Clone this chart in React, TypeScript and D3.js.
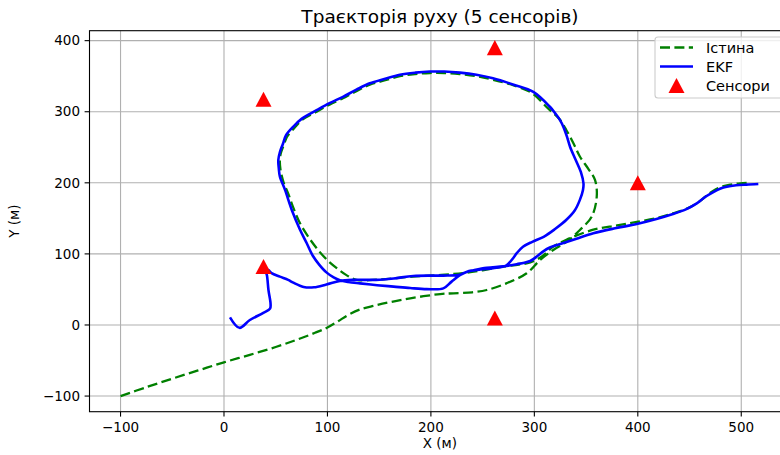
import React from "react";
import * as d3 from "d3";

// ---- data ----
const TRUTH_X = [-100, -75, -50, -25, 0, 25, 50, 70, 88, 100, 110, 120, 131, 145, 160, 180, 209, 222, 240, 254, 273, 292.6, 305.5, 318.3, 331.3, 344, 355.4, 360.3, 358.6, 352, 344, 338, 331, 324, 313, 298, 280, 260, 244, 228, 213, 199, 185, 170, 155, 141, 128, 115, 102, 90, 75, 68, 61, 58, 55, 54, 54.5, 56, 58, 62, 67, 73.5, 82, 91, 100, 109, 118, 128, 150, 186, 210, 231, 250, 270, 285, 296, 308, 318, 331, 357, 380, 399, 420, 434, 448, 457, 465, 472, 480, 490, 499, 508];
const TRUTH_Y = [-100, -87.5, -75.5, -64, -52.5, -42, -31, -21, -11, -3.5, 5, 14, 21.5, 27, 32, 37.5, 43.5, 44.6, 46, 49.2, 58.6, 72.7, 91.4, 105.5, 117.2, 133.6, 152.3, 180.5, 204, 220, 237, 255, 274, 290, 305, 326, 337, 345, 350, 353, 354.5, 354.5, 353, 350, 344, 338, 329, 319, 310, 300.5, 288, 277, 265, 254, 242, 232, 220, 209, 199, 185, 165, 143, 123, 105.5, 91, 80, 70.5, 63.5, 64, 68.5, 70.5, 73, 77, 82, 85, 88, 97, 110, 120, 134, 140, 145, 151, 157, 164, 171, 180, 188, 194, 197.5, 199.3, 200.2];

const EKF_X = [5.8, 15, 25, 38, 44.5, 45, 43, 41.5, 40, 43, 46, 54, 62, 67, 77, 87, 99, 112, 125, 147, 164, 183, 212, 228, 235, 248, 260, 273, 280, 283, 289, 298, 309, 320, 331, 339, 344, 347, 347.5, 345, 340, 334.5, 331.5, 328, 324.8, 320, 315, 299, 280, 260, 244, 228, 213, 199, 185, 170, 155, 141, 128, 115, 102, 90, 75, 67, 60, 57, 54, 52.5, 53, 54, 59, 66, 73.5, 80, 86, 92, 99, 106, 112, 120, 131.5, 148, 164, 180, 196, 212, 220, 228, 235, 241, 254, 270, 283, 296, 303, 309, 315, 322, 340, 357, 378, 399, 418, 434, 447, 457, 465, 473, 480, 486, 495, 505, 516.5];
const EKF_Y = [10.8, -4, 7, 17, 23, 30, 49, 70, 78, 77, 73, 68, 63.5, 59.5, 53.5, 53, 57, 62, 63.5, 63.5, 65.5, 69, 69.5, 70.5, 75, 78, 80, 84, 95, 101, 110, 117, 124, 135, 148, 161, 176, 190, 199, 215, 232, 250.8, 265, 279, 288.3, 298, 307, 328, 338, 347, 352, 355, 356.5, 356.5, 355, 352, 346, 340, 331, 321, 312, 302.5, 290, 279, 267, 255, 243, 232, 220, 209, 190, 160, 134, 115, 97, 85, 74, 67, 63, 60.5, 58.5, 56, 54, 52, 50.5, 51.5, 61, 70, 75, 77, 80.5, 82.5, 85.5, 90, 97, 104, 109, 112.5, 121, 129, 136, 142, 149, 156, 163, 171, 180, 187, 192, 194.5, 196.5, 197.5, 198.3];

const SENSOR_X = [400, 261.8, 38.2, 38.2, 261.8];
const SENSOR_Y = [200, 390.2, 317.6, 82.4, 9.8];

const X_TICKS = [-100, 0, 100, 200, 300, 400, 500];
const Y_TICKS = [-100, 0, 100, 200, 300, 400];

const TITLE = "Траєкторія руху (5 сенсорів)";
const X_LABEL = "X (м)";
const Y_LABEL = "Y (м)";
const LEGEND_LABELS = ["Істина", "EKF", "Сенсори"];

// ---- layout ----
const W = 780;
const H = 455;
const FONT = "DejaVu Sans, sans-serif";
const GREEN = "#008000";
const BLUE = "#0000ff";
const RED = "#ff0000";

const fmt = (v: number) => (v < 0 ? "\u2212" + Math.abs(v) : String(v));

export default function App() {
  const x = d3.scaleLinear().domain([-130, 547.5]).range([89.5, 790.4]);
  const y = d3.scaleLinear().domain([-122, 414]).range([411.7, 30.7]);
  const [x0, x1] = x.range();
  const [y0, y1] = y.range();

  const truth = TRUTH_X.map((v, i) => [v, TRUTH_Y[i]] as [number, number]);
  const ekf = EKF_X.map((v, i) => [v, EKF_Y[i]] as [number, number]);
  const line = d3
    .line<[number, number]>()
    .x((d) => x(d[0]))
    .y((d) => y(d[1]))
    .curve(d3.curveCatmullRom.alpha(0.5));

  const tri = (cx: number, cy: number, s: number) =>
    `M${cx},${cy - s * 0.47} L${cx - s / 2},${cy + s * 0.47} L${cx + s / 2},${cy + s * 0.47} Z`;

  const legX = 655;
  const legY = 37;
  const rows = [47.5, 66.5, 85.5];

  return (
    <svg
      width={W}
      height={H}
      style={{ position: "absolute", left: 0, top: 0, background: "#fff" }}
      fontFamily={FONT}
    >
      <defs>
        <clipPath id="plotclip">
          <rect x={x0} y={y1} width={x1 - x0} height={y0 - y1} />
        </clipPath>
      </defs>
      <rect x={0} y={0} width={W} height={H} fill="#fff" />
      {/* grid */}
      {X_TICKS.map((t) => (
        <line key={"gx" + t} x1={x(t)} x2={x(t)} y1={y1} y2={y0} stroke="#b0b0b0" strokeWidth={1.1} />
      ))}
      {Y_TICKS.map((t) => (
        <line key={"gy" + t} x1={x0} x2={x1} y1={y(t)} y2={y(t)} stroke="#b0b0b0" strokeWidth={1.1} />
      ))}
      <g clipPath="url(#plotclip)">
        <path d={line(truth) || ""} fill="none" stroke={GREEN} strokeWidth={2.3} strokeDasharray="10,4.4" />
        <path d={line(ekf) || ""} fill="none" stroke={BLUE} strokeWidth={2.6} strokeLinejoin="round" />
        {SENSOR_X.map((sx, i) => (
          <path key={"s" + i} d={tri(x(sx), y(SENSOR_Y[i]), 16)} fill={RED} />
        ))}
      </g>
      {/* frame */}
      <rect x={x0} y={y1} width={x1 - x0} height={y0 - y1} fill="none" stroke="#000" strokeWidth={1.1} />
      {/* x ticks */}
      {X_TICKS.map((t) => (
        <g key={"xt" + t}>
          <line x1={x(t)} x2={x(t)} y1={y0} y2={y0 + 4.9} stroke="#000" strokeWidth={1.1} />
          <text x={x(t)} y={y0 + 20} textAnchor="middle" fontSize={13.5} fill="#000">
            {fmt(t)}
          </text>
        </g>
      ))}
      {/* y ticks */}
      {Y_TICKS.map((t) => (
        <g key={"yt" + t}>
          <line x1={x0} x2={x0 - 4.9} y1={y(t)} y2={y(t)} stroke="#000" strokeWidth={1.1} />
          <text x={x0 - 9.5} y={y(t)} dy="0.35em" textAnchor="end" fontSize={13.5} fill="#000">
            {fmt(t)}
          </text>
        </g>
      ))}
      <text x={(x0 + x1) / 2} y={448} textAnchor="middle" fontSize={13.5} fill="#000">
        {X_LABEL}
      </text>
      <text
        transform={`translate(19,${(y0 + y1) / 2}) rotate(-90)`}
        textAnchor="middle"
        fontSize={13.5}
        fill="#000"
      >
        {Y_LABEL}
      </text>
      <text x={(x0 + x1) / 2} y={23} textAnchor="middle" fontSize={18.5} fill="#000">
        {TITLE}
      </text>
      {/* legend */}
      <rect x={legX} y={legY} width={130} height={61} rx={3} fill="#fff" fillOpacity={0.8} stroke="#cccccc" strokeWidth={1.1} />
      <line x1={660} x2={693} y1={rows[0]} y2={rows[0]} stroke={GREEN} strokeWidth={2.3} strokeDasharray="10,4.4" />
      <line x1={660} x2={693} y1={rows[1]} y2={rows[1]} stroke={BLUE} strokeWidth={2.6} />
      <path d={tri(676.5, rows[2], 16)} fill={RED} />
      {LEGEND_LABELS.map((l, i) => (
        <text key={l} x={706} y={rows[i]} dy="0.35em" fontSize={14.5} fill="#000">
          {l}
        </text>
      ))}
    </svg>
  );
}
